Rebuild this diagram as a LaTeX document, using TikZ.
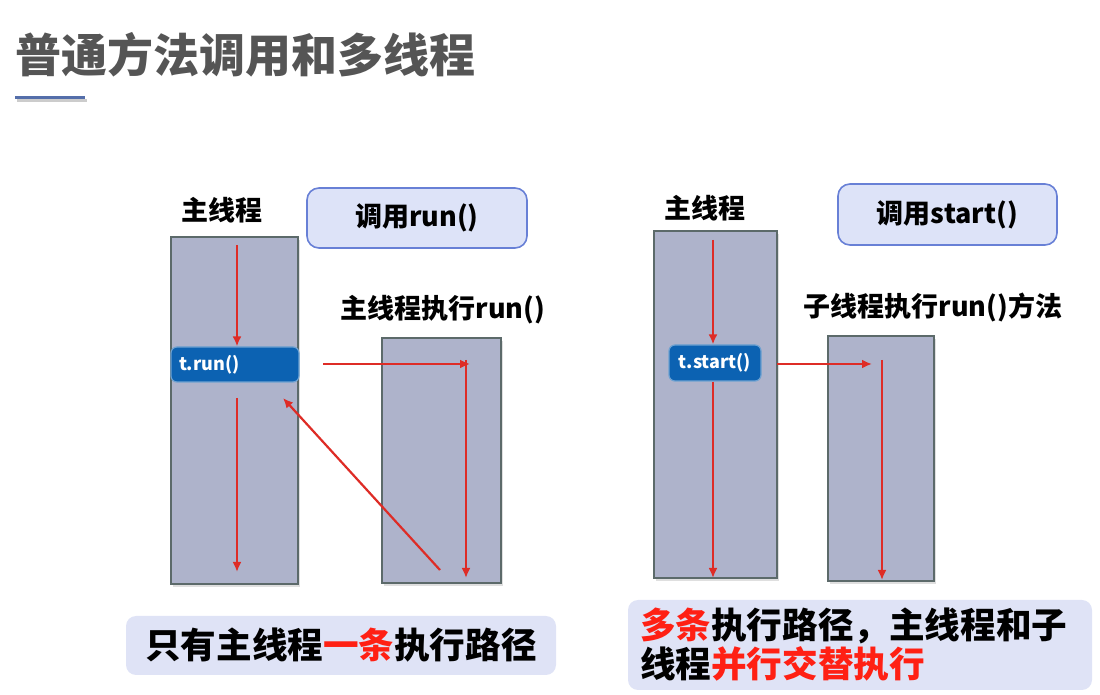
\documentclass[tikz,border=0pt]{standalone}
\usepackage{fontspec}
\setmainfont{Noto Sans CJK SC}
\usepackage{tikz}
\usetikzlibrary{
  arrows.meta,
  positioning,
  shadows
}
\definecolor{threadcolor}{RGB}{174, 179, 203}
\definecolor{threadborder}{RGB}{92, 106, 106}
\definecolor{callcolor}{RGB}{221, 227, 248}
\definecolor{callborder}{RGB}{104, 128, 214}
\definecolor{methodcolor}{RGB}{12, 98, 178}
\definecolor{arrowcolor}{RGB}{222, 44, 38}
\definecolor{titlecolor}{RGB}{85, 85, 85}
\definecolor{rulecolor}{RGB}{84, 110, 170}
\definecolor{notecolor}{RGB}{223, 227, 246}
\definecolor{hotcolor}{RGB}{255, 32, 20}
\tikzset{
titlelabel/.style={
  font=\fontsize{23}{27}\selectfont\bfseries,
  text=titlecolor
},
threadlabel/.style={
  font=\fontsize{13.5}{16}\selectfont\bfseries,
  text=black,
  inner sep=0pt
},
threadblock/.style={
  draw=threadborder,
  line width=1pt,
  fill=threadcolor,
  drop shadow={opacity=0.25, shadow xshift=1pt, shadow yshift=-1.5pt}
},
callbox/.style={
  draw=callborder,
  line width=0.8pt,
  fill=callcolor,
  rounded corners=6pt,
  font=\fontsize{13.5}{16}\selectfont\bfseries
},
methodbox/.style={
  draw=methodcolor!60!white,
  line width=0.6pt,
  fill=methodcolor,
  rounded corners=3pt,
  text=white,
  font=\fontsize{9}{10}\selectfont\bfseries
},
notebox/.style={
  fill=notecolor,
  rounded corners=5pt,
  font=\fontsize{17.8}{19.5}\selectfont\bfseries
},
arrow/.style={
  -{Latex[length=5pt,width=4.5pt]},
  line width=1.1pt,
  draw=arrowcolor
}
}
\begin{document}
\begin{tikzpicture}[x=0.5pt, y=-0.5pt]
      \useasboundingbox (0,0) rectangle (1100,695);

      % title
      \node[titlelabel, anchor=west] (title) at (8,55) {普通方法调用和多线程};
      \draw[black!20, line width=1.5pt] (17,101) -- (87,101);
      \draw[rulecolor, line width=1.5pt] (15,98) -- (85,98);

      % ordinary call
      \node[threadblock, minimum width=63.5pt, minimum height=173.5pt] (main1) at (234.5,410.5) {};
      \node[threadblock, minimum width=59.5pt, minimum height=122.5pt] (child1) at (441.5,460.5) {};
      \node[threadlabel] (mainlabel1) at (222,210) {主线程};
      \node[callbox, minimum width=110pt, minimum height=30pt] (call1) at (417,218) {调用run()};
      \node[threadlabel] (childlabel1) at (443,310) {主线程执行run()};
      \node[methodbox, minimum width=64pt, minimum height=17.5pt, text width=56pt, align=left] (run) at (235,364.5) {t.run()};

      \coordinate (a1) at (237,245);
      \coordinate (a2) at (237,398);
      \coordinate (a3) at (237,572);
      \coordinate (b1) at (323,364);
      \coordinate (b2) at (470,364);
      \coordinate (c1) at (466,360);
      \coordinate (c2) at (466,578);
      \coordinate (d1) at (440,570);
      \coordinate (d2) at (283,398);
      \draw[arrow] (a1) -- (a1 |- run.north);
      \draw[arrow] (a2) -- (a3);
      \draw[arrow] (b1) -- (b2);
      \draw[arrow] (c1) -- (c2);
      \draw[arrow] (d1) -- (d2);

      \node[notebox, minimum width=215pt, minimum height=29.5pt] (note1) at (341,645.5) {只有主线程\textcolor{hotcolor}{一条}执行路径};

      % multithreading
      \node[threadblock, minimum width=61.5pt, minimum height=173.5pt] (main2) at (715.5,404.5) {};
      \node[threadblock, minimum width=53pt, minimum height=122.5pt] (child2) at (881,458.5) {};
      \node[threadlabel] (mainlabel2) at (705,208) {主线程};
      \node[callbox, minimum width=109.5pt, minimum height=30.5pt] (call2) at (947.5,214.5) {调用start()};
      \node[threadlabel] (childlabel2) at (933,307) {子线程执行run()方法};
      \node[methodbox, minimum width=46pt, minimum height=18pt] (start) at (715,363) {t.start()};

      \coordinate (e1) at (713,240);
      \coordinate (e2) at (713,578);
      \coordinate (f1) at (777,364);
      \coordinate (f2) at (872,364);
      \coordinate (g1) at (882,360);
      \coordinate (g2) at (882,580);
      \draw[arrow] (e1) -- (e1 |- start.north);
      \draw[arrow] (e1 |- start.south) -- (e2);
      \draw[arrow] (f1) -- (f2);
      \draw[arrow] (g1) -- (g2);

      \node[notebox, minimum width=232pt, minimum height=45pt, text width=220pt, align=left] (note2) at (860,645) {\textcolor{hotcolor}{多条}执行路径，主线程和子\\线程\textcolor{hotcolor}{并行交替执行}};
    \end{tikzpicture}
\end{document}
